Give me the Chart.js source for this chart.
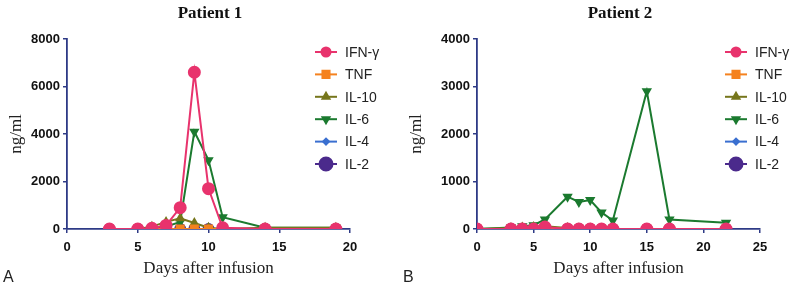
<!DOCTYPE html>
<html>
<head>
<meta charset="utf-8">
<script src="https://cdn.jsdelivr.net/npm/chart.js@4/dist/chart.umd.min.js"></script>
<style>
  html, body { margin: 0; padding: 0; background: #fff; }
  .row { display: flex; width: 800px; height: 289px; }
  .panel { width: 400px; height: 289px; }
</style>
</head>
<body>
<div class="row">
  <div class="panel"><canvas id="p1" width="400" height="289"></canvas></div>
  <div class="panel"><canvas id="p2" width="400" height="289"></canvas></div>
</div>
<script>
// cytokine names
const cytokines = ['IFN-\u03b3', 'TNF', 'IL-10', 'IL-6', 'IL-4', 'IL-2'];

// Patient 1
const days1 = [3, 5, 6, 7, 8, 9, 10, 11, 14, 19];
const ifn1  = [0, 0, 30, 150, 900, 6600, 1700, 50, 0, 0];
const tnf1  = [0, 0, 0, 0, 0, 0, 0, 0, 0, 0];
const il10_1 = [0, 0, 100, 300, 450, 250, 50, 0, 50, 50];
const il6_1 = [0, 0, 50, 100, 300, 4100, 2900, 500, 50, 50];
const il4_1 = [0, 0, 0, 0, 0, 0, 0, 0, 0, 0];
const il2_1 = [0, 0, 0, 0, 0, 0, 0, 0, 0, 0];

// Patient 2
const days2 = [0, 3, 4, 5, 6, 8, 9, 10, 11, 12, 15, 17, 22];
const ifn2  = [0, 0, 0, 0, 40, 0, 0, 0, 0, 0, 0, 0, 0];
const tnf2  = [0, 0, 0, 0, 30, 0, 0, 0, 0, 0, 0, 0, 0];
const il10_2 = [0, 20, 30, 40, 60, 20, 10, 10, 0, 0, 0, 0, 0];
const il6_2 = [0, 30, 60, 80, 200, 680, 570, 610, 350, 180, 2900, 200, 130];
const il4_2 = [0, 0, 0, 0, 0, 0, 0, 0, 0, 0, 0, 0, 0];
const il2_2 = [0, 0, 0, 0, 0, 0, 0, 0, 0, 0, 0, 0, 0];

const axisBlue = '#2e3a86';
// radius = on the plot, legR = in the legend
const styles = [
  { color: '#e8336d', pointStyle: 'circle', radius: 5.5, legR: 4.5, rotation: 0 },
  { color: '#f5821f', pointStyle: 'rect', radius: 5, legR: 5, rotation: 0 },
  { color: '#76761c', pointStyle: 'triangle', radius: 4, legR: 4, rotation: 0 },
  { color: '#1b7a2f', pointStyle: 'triangle', radius: 4, legR: 4, rotation: 180 },
  { color: '#3a6fd0', pointStyle: 'rectRot', radius: 3, legR: 3, rotation: 0 },
  { color: '#4b2a8c', pointStyle: 'circle', radius: 5, legR: 6.5, rotation: 0 }
];

function makeSets(days, series) {
  return series.map((vals, i) => ({
    label: cytokines[i],
    data: days.map((d, j) => ({ x: d, y: vals[j] })),
    borderColor: styles[i].color,
    backgroundColor: styles[i].color,
    pointStyle: styles[i].pointStyle,
    pointRadius: styles[i].radius,
    pointRotation: styles[i].rotation,
    borderWidth: 2,
    tension: 0,
    order: i
  }));
}

// draws title, legend and panel letter
const decor = {
  id: 'decor',
  afterDraw(chart, args, opts) {
    const ctx = chart.ctx;
    ctx.save();
    ctx.fillStyle = '#111';
    ctx.font = 'bold 17px "Liberation Serif", "Times New Roman", serif';
    ctx.textAlign = 'center';
    ctx.textBaseline = 'middle';
    ctx.fillText(opts.title, opts.titleX, 14);

    ctx.font = '16px "Liberation Sans", Arial, sans-serif';
    ctx.textAlign = 'left';
    ctx.fillStyle = '#222';
    ctx.fillText(opts.letter, 3, 278);

    ctx.font = '14px "Liberation Sans", Arial, sans-serif';
    chart.data.datasets.forEach((ds, i) => {
      const y = opts.legY + i * 22.4;
      const x0 = opts.legX;
      ctx.strokeStyle = ds.borderColor;
      ctx.lineWidth = 2;
      ctx.beginPath();
      ctx.moveTo(x0, y);
      ctx.lineTo(x0 + 22, y);
      ctx.stroke();
      ctx.fillStyle = ds.backgroundColor;
      Chart.helpers.drawPoint(ctx, {
        pointStyle: ds.pointStyle, radius: styles[i].legR,
        rotation: ds.pointRotation, borderWidth: 1
      }, x0 + 11, y);
      ctx.fillStyle = '#222';
      ctx.fillText(ds.label, x0 + 30, y + 1);
    });
    ctx.restore();
  }
};

const tickFont = { family: '"Liberation Sans", Arial', size: 13, weight: 'bold' };
const serifFont = { family: '"Liberation Serif", "Times New Roman", serif', size: 17 };

function makeChart(id, days, series, xMax, yMax, yStep, yWidth, pad, decorOpts) {
  return new Chart(document.getElementById(id).getContext('2d'), {
    type: 'line',
    data: { datasets: makeSets(days, series) },
    options: {
      responsive: false,
      animation: false,
      layout: { padding: pad },
      plugins: { legend: { display: false }, tooltip: { enabled: false }, decor: decorOpts },
      scales: {
        x: {
          type: 'linear', min: 0, max: xMax,
          ticks: { stepSize: 5, color: '#111', font: tickFont, padding: 7, callback: v => String(v) },
          grid: { drawOnChartArea: false, drawTicks: true, tickLength: 4, color: axisBlue, lineWidth: 1.5 },
          border: { color: axisBlue, width: 1.8 },
          title: { display: true, text: 'Days after infusion', color: '#222', font: serifFont, padding: { top: 1, bottom: 0 } },
          afterFit: s => { s.height = 50; }
        },
        y: {
          min: 0, max: yMax,
          ticks: { stepSize: yStep, color: '#111', font: tickFont, padding: 3, callback: v => String(v) },
          grid: { drawOnChartArea: false, drawTicks: true, tickLength: 4, color: axisBlue, lineWidth: 1.5 },
          border: { color: axisBlue, width: 1.8 },
          title: { display: true, text: 'ng/ml', color: '#222', font: serifFont, padding: { top: 6, bottom: 0 } },
          afterFit: s => { s.width = yWidth; }
        }
      }
    },
    plugins: [decor]
  });
}

makeChart('p1', days1, [ifn1, tnf1, il10_1, il6_1, il4_1, il2_1], 20, 8000, 2000, 67,
  { left: 0, right: 50, top: 39, bottom: 10 },
  { title: 'Patient 1', titleX: 210, legX: 315, legY: 52, letter: 'A' });

makeChart('p2', days2, [ifn2, tnf2, il10_2, il6_2, il4_2, il2_2], 25, 4000, 1000, 77,
  { left: 0, right: 40, top: 39, bottom: 10 },
  { title: 'Patient 2', titleX: 220, legX: 325, legY: 52, letter: 'B' });
</script>
</body>
</html>
